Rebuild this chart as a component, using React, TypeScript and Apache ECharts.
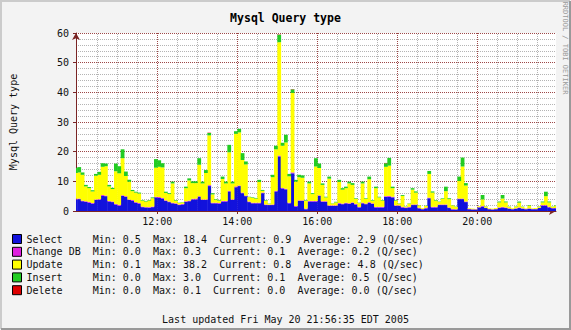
import React, { useEffect, useRef } from "react";
import * as echarts from "echarts";

// ---- data (5 minute samples, first sample interval starts 09:55) ----
const seriesNames = ["Select", "Change DB", "Update", "Insert", "Delete"];
const seriesColors = ["#1212dc", "#e020e0", "#ffff00", "#22cc22", "#dd0000"];
const startMinute = 595;
const stepMinutes = 5;
const axisMinMinute = 598;
const axisMaxMinute = 1318;
const majorTimeTicks = [720, 840, 960, 1080, 1200];
const minorTimeTicks = [630, 660, 690, 750, 780, 810, 870, 900, 930, 990, 1020, 1050, 1110, 1140, 1170, 1230, 1260, 1290];

const selectVals = [
  3.9, 4.0, 3.3, 3.1, 2.8, 2.5, 3.7, 3.8, 5.1, 5.0,
  3.2, 3.0, 2.2, 1.8, 5.1, 4.8, 3.7, 3.5, 2.8, 2.5,
  1.3, 1.2, 1.1, 1.3, 4.6, 4.4, 4.2, 3.4, 3.0, 2.6,
  2.4, 2.0, 2.2, 3.1, 3.3, 3.9, 3.9, 4.8, 3.7, 3.7,
  8.4, 2.6, 2.6, 2.5, 3.2, 3.2, 6.6, 3.7, 8.0, 8.4,
  6.0, 5.0, 3.0, 2.6, 2.6, 2.6, 6.0, 2.0, 2.0, 2.0,
  6.6, 18.4, 7.6, 7.3, 2.6, 12.7, 1.5, 3.4, 3.4, 0.6,
  3.2, 3.2, 3.2, 5.1, 3.1, 3.1, 1.7, 1.7, 1.7, 2.5,
  2.3, 2.6, 2.4, 2.7, 2.2, 1.2, 2.6, 2.3, 2.8, 2.4,
  1.2, 1.2, 1.2, 4.8, 4.8, 4.6, 1.7, 1.7, 1.2, 1.0,
  1.2, 2.0, 2.0, 0.9, 0.6, 0.9, 4.3, 1.2, 1.2, 2.0,
  2.0, 2.0, 1.0, 0.5, 0.5, 4.0, 4.0, 3.0, 0.6, 0.5,
  0.5, 1.2, 1.5, 1.0, 0.6, 0.5, 0.6, 1.0, 1.2, 1.0,
  0.8, 0.6, 0.8, 1.0, 0.8, 0.6, 0.8, 0.6, 0.6, 1.0,
  1.8, 1.8, 1.2, 0.9, 0.9,
];
const changeDbVals = [
  0.2, 0.2, 0.2, 0.2, 0.3, 0.2, 0.2, 0.2, 0.3, 0.2,
  0.2, 0.2, 0.2, 0.3, 0.2, 0.2, 0.2, 0.2, 0.2, 0.2,
  0.2, 0.1, 0.2, 0.2, 0.2, 0.3, 0.2, 0.2, 0.2, 0.2,
  0.2, 0.2, 0.2, 0.2, 0.2, 0.2, 0.3, 0.2, 0.2, 0.2,
  0.3, 0.2, 0.2, 0.2, 0.2, 0.2, 0.2, 0.2, 0.3, 0.2,
  0.2, 0.2, 0.2, 0.2, 0.2, 0.2, 0.2, 0.2, 0.1, 0.2,
  0.2, 0.3, 0.2, 0.2, 0.2, 0.3, 0.2, 0.2, 0.2, 0.2,
  0.2, 0.2, 0.2, 0.2, 0.2, 0.2, 0.2, 0.2, 0.2, 0.2,
  0.2, 0.2, 0.2, 0.2, 0.2, 0.2, 0.2, 0.2, 0.2, 0.2,
  0.2, 0.2, 0.2, 0.2, 0.3, 0.2, 0.2, 0.2, 0.2, 0.2,
  0.2, 0.2, 0.2, 0.2, 0.1, 0.2, 0.2, 0.2, 0.2, 0.2,
  0.2, 0.2, 0.2, 0.2, 0.1, 0.2, 0.2, 0.2, 0.1, 0.1,
  0.1, 0.1, 0.2, 0.1, 0.1, 0.1, 0.1, 0.2, 0.2, 0.2,
  0.1, 0.1, 0.1, 0.2, 0.1, 0.1, 0.1, 0.1, 0.1, 0.1,
  0.2, 0.2, 0.2, 0.1, 0.1,
];
const updateVals = [
  8.7, 8.8, 8.7, 5.0, 4.6, 3.9, 8.0, 8.2, 9.5, 9.9,
  4.9, 4.2, 11.0, 10.6, 12.5, 6.8, 6.0, 3.0, 3.2, 3.2,
  2.0, 1.9, 2.2, 2.8, 9.8, 10.2, 10.3, 2.5, 2.5, 6.5,
  0.9, 0.5, 0.5, 4.4, 6.8, 5.3, 5.2, 10.6, 5.4, 8.9,
  16.8, 2.8, 1.0, 0.8, 7.4, 5.9, 13.0, 5.4, 17.7, 17.9,
  11.0, 10.5, 1.5, 1.6, 1.4, 7.0, 0.6, 1.3, 0.3, 9.2,
  14.0, 38.2, 14.2, 15.6, 8.9, 26.8, 8.2, 7.8, 7.6, 2.7,
  5.9, 2.3, 11.6, 9.2, 5.5, 1.3, 9.0, 0.6, 1.0, 7.1,
  4.7, 4.9, 6.7, 5.9, 1.7, 1.3, 6.5, 1.6, 7.7, 0.9,
  6.3, 3.2, 2.1, 9.9, 10.2, 2.9, 1.6, 0.6, 3.7, 0.2,
  1.1, 5.0, 4.0, 0.8, 0.3, 0.6, 8.0, 4.8, 2.1, 0.9,
  1.9, 4.5, 2.8, 1.2, 0.8, 5.9, 10.8, 5.4, 0.2, 0.2,
  0.1, 0.3, 2.2, 0.4, 0.2, 0.2, 0.3, 1.7, 2.8, 1.7,
  0.5, 0.2, 0.6, 1.6, 0.5, 0.2, 0.9, 0.2, 0.3, 0.4,
  0.9, 3.0, 1.5, 0.4, 0.8,
];
const insertVals = [
  1.7, 1.8, 0.8, 0.5, 0.4, 0.4, 0.6, 1.0, 1.2, 0.9,
  0.5, 0.4, 2.6, 2.4, 3.0, 1.5, 0.6, 0.4, 0.3, 0.3,
  0.2, 0.2, 0.2, 0.3, 2.9, 2.2, 1.4, 0.4, 0.3, 0.6,
  0.2, 0.1, 0.1, 0.5, 0.7, 0.6, 0.6, 2.2, 0.6, 1.0,
  0.8, 0.4, 0.2, 0.2, 0.8, 0.6, 2.5, 0.6, 0.9, 1.2,
  2.3, 1.0, 0.1, 0.2, 0.2, 0.7, 0.3, 0.2, 0.1, 0.8,
  1.2, 2.5, 1.0, 2.6, 0.8, 1.2, 0.6, 0.8, 0.8, 0.2,
  0.6, 0.3, 2.8, 1.5, 0.5, 0.2, 0.7, 0.1, 0.2, 0.7,
  0.5, 0.5, 0.6, 0.6, 0.2, 0.1, 0.6, 0.2, 0.9, 0.2,
  0.5, 0.2, 0.2, 1.2, 2.6, 0.5, 0.2, 0.1, 0.3, 0.1,
  0.1, 0.5, 0.4, 0.1, 0.0, 0.1, 1.0, 0.4, 0.2, 0.1,
  0.2, 1.5, 0.3, 0.1, 0.1, 1.5, 3.0, 0.8, 0.0, 0.0,
  0.0, 0.0, 1.5, 0.1, 0.0, 0.0, 0.0, 0.3, 1.2, 0.3,
  0.1, 0.0, 0.1, 0.4, 0.1, 0.0, 0.2, 0.0, 0.0, 0.1,
  0.3, 1.5, 0.3, 0.1, 0.1,
];
const deleteVals = [
  0, 0, 0, 0, 0, 0, 0, 0, 0, 0,
  0, 0, 0, 0, 0, 0, 0, 0, 0, 0,
  0, 0, 0, 0, 0, 0, 0, 0, 0, 0,
  0, 0, 0, 0, 0, 0, 0, 0, 0, 0,
  0.1, 0, 0, 0, 0, 0, 0, 0, 0, 0,
  0, 0, 0, 0, 0, 0, 0, 0, 0, 0,
  0, 0.1, 0, 0, 0, 0.1, 0, 0, 0, 0,
  0, 0, 0, 0, 0, 0, 0, 0, 0, 0,
  0, 0, 0, 0, 0, 0, 0, 0, 0, 0,
  0, 0, 0, 0.1, 0, 0, 0, 0, 0, 0,
  0, 0, 0, 0, 0, 0, 0, 0, 0, 0,
  0, 0, 0, 0, 0, 0, 0, 0, 0, 0,
  0, 0, 0, 0, 0, 0, 0, 0, 0, 0,
  0, 0, 0, 0, 0, 0, 0, 0, 0, 0,
  0, 0, 0, 0, 0,
];

const legendMin = ["0.5", "0.0", "0.1", "0.0", "0.0"];
const legendMax = ["18.4", "0.3", "38.2", "3.0", "0.1"];
const legendCurrent = ["0.9", "0.1", "0.8", "0.1", "0.0"];
const legendAverage = ["2.9", "0.2", "4.8", "0.5", "0.0"];
const legendUnit = "(Q/sec)";

const titleText = "Mysql Query type";
const yAxisTitle = "Mysql Query type";
const footerText = "Last updated Fri May 20 21:56:35 EDT 2005";
const sideText = "RRDTOOL / TOBI OETIKER";

const allValues = [selectVals, changeDbVals, updateVals, insertVals, deleteVals];

const MONO = "'DejaVu Sans Mono', 'Liberation Mono', monospace";
const CHAR_W = 6.02;
const MAJOR_GRID = "rgba(140,40,40,0.85)";
const MINOR_GRID = "#b4b4b4";
const AXIS_COLOR = "#7a2424";

function fmtTime(v: number) {
  const h = Math.floor(v / 60);
  const m = Math.round(v % 60);
  return `${h}:${String(m).padStart(2, "0")}`;
}

export default function App() {
  const ref = useRef<HTMLDivElement>(null);

  useEffect(() => {
    document.body.style.margin = "0";
    if (!ref.current) return;
    const chart = echarts.init(ref.current, null, { renderer: "svg" });

    const rich: Record<string, any> = {};
    for (let n = 1; n <= 30; n++) {
      rich[`w${n}`] = { width: n * CHAR_W, fontFamily: MONO, fontSize: 10, color: "#111", lineHeight: 12.8 };
    }
    rich.t = { fontFamily: MONO, fontSize: 10, color: "#111", lineHeight: 12.8 };
    const seg = (s: string, pad: number) => `{w${s.length + pad}|${s}}`;

    // stacked layers: each row = [sampleStart, stackBase, value]
    const base = selectVals.map(() => 0);
    const series: any[] = seriesNames.map((name, k) => {
      const vals = allValues[k];
      const data = vals.map((v, i) => {
        const row = [startMinute + i * stepMinutes, base[i], v];
        base[i] += v;
        return row;
      });
      const color = seriesColors[k];
      return {
        type: "custom",
        name,
        xAxisIndex: 0,
        yAxisIndex: 0,
        itemStyle: { color },
        encode: { x: 0, y: [1, 2] },
        silent: true,
        z: 3,
        renderItem: (params: any, api: any) => {
          const t = api.value(0);
          const b = api.value(1);
          const v = api.value(2);
          if (!(v > 0)) return null;
          const p0 = api.coord([t, b]);
          const p1 = api.coord([t + stepMinutes, b + v]);
          const cs = params.coordSys;
          const shape = echarts.graphic.clipRectByRect(
            { x: p0[0], y: p1[1], width: p1[0] - p0[0] + 0.45, height: p0[1] - p1[1] },
            { x: cs.x, y: cs.y, width: cs.width, height: cs.height }
          );
          if (!shape) return null;
          return { type: "rect", shape, style: { fill: color, stroke: null } };
        },
        data,
      };
    });

    // minor vertical grid lines, drawn under the data through the x axis scale
    series.push({
      type: "line",
      name: "__grid",
      xAxisIndex: 0,
      yAxisIndex: 0,
      data: [],
      silent: true,
      z: 1,
      markLine: {
        silent: true,
        symbol: ["none", "none"],
        z: 1,
        label: { show: false },
        lineStyle: { color: MINOR_GRID, type: [1, 1], width: 1 },
        data: minorTimeTicks.map((t) => ({ xAxis: t })),
      },
    });

    const option: any = {
      animation: false,
      backgroundColor: "#f3f3f3",
      title: [
        {
          text: titleText,
          left: "center",
          top: 7,
          textStyle: { fontFamily: MONO, fontSize: 11.5, fontWeight: "bold", color: "#000" },
        },
        {
          text: footerText,
          left: "center",
          top: 309,
          textStyle: { fontFamily: MONO, fontSize: 10, fontWeight: "normal", color: "#111" },
        },
      ],
      grid: {
        left: 76,
        top: 33,
        width: 480,
        height: 178,
        show: true,
        backgroundColor: "#ffffff",
        borderWidth: 0,
        containLabel: false,
        outerBoundsMode: "none",
      },
      legend: {
        orient: "vertical",
        left: 12,
        top: 232.6,
        padding: 0,
        itemGap: 0,
        itemWidth: 9,
        itemHeight: 9,
        selectedMode: false,
        data: seriesNames.map((name, k) => ({
          name,
          icon: "rect",
          itemStyle: { color: seriesColors[k], borderColor: "#000", borderWidth: 1 },
        })),
        textStyle: { fontFamily: MONO, fontSize: 10, color: "#111", lineHeight: 12.8, rich },
        formatter: (name: string) => {
          const k = seriesNames.indexOf(name);
          return (
            `{w11|${name}}` +
            seg(`Min: ${legendMin[k]}`, 2) +
            seg(`Max: ${legendMax[k]}`, 2) +
            seg(`Current: ${legendCurrent[k]}`, 2) +
            `{t|Average: ${legendAverage[k]} ${legendUnit}}`
          );
        },
      },
      xAxis: {
        type: "value",
        min: axisMinMinute,
        max: axisMaxMinute,
        position: "bottom",
        axisLine: {
          show: true,
          onZero: false,
          lineStyle: { color: AXIS_COLOR, width: 1 },
          symbol: ["none", "arrow"],
          symbolSize: [6, 7],
        },
        axisTick: { show: true, length: 3, customValues: majorTimeTicks, lineStyle: { color: AXIS_COLOR } },
        axisLabel: {
          customValues: majorTimeTicks,
          formatter: (v: number) => fmtTime(v),
          fontFamily: MONO,
          fontSize: 10,
          color: "#111",
          margin: 5,
        },
        splitLine: { show: true, lineStyle: { color: MAJOR_GRID, type: [1, 1], width: 1 } },
      },
      yAxis: {
        type: "value",
        min: 0,
        max: 60,
        interval: 10,
        name: yAxisTitle,
        nameLocation: "middle",
        nameRotate: 90,
        nameGap: 58,
        nameTextStyle: { fontFamily: MONO, fontSize: 10, color: "#111" },
        axisLine: {
          show: true,
          lineStyle: { color: AXIS_COLOR, width: 1 },
          symbol: ["none", "arrow"],
          symbolSize: [6, 7],
        },
        axisTick: { show: true, length: 3, lineStyle: { color: AXIS_COLOR } },
        axisLabel: { fontFamily: MONO, fontSize: 10, color: "#111", margin: 7 },
        splitLine: { show: true, lineStyle: { color: MAJOR_GRID, type: [1, 1], width: 1 } },
        minorTick: { show: false, splitNumber: 5 },
        minorSplitLine: { show: true, lineStyle: { color: MINOR_GRID, type: [1, 1], width: 1 } },
      },
      series,
      graphic: [
        {
          type: "text",
          x: 565,
          y: 48,
          rotation: -Math.PI / 2,
          style: {
            text: sideText,
            fontFamily: MONO,
            fontSize: 7,
            fill: "#9a9a9a",
            align: "center",
            verticalAlign: "middle",
          },
        },
        {
          type: "polyline",
          shape: { points: [[1, 329], [1, 1], [570, 1]] },
          style: { stroke: "#cbcbcb", lineWidth: 2, fill: null },
        },
        {
          type: "polyline",
          shape: { points: [[1, 329], [570, 329], [570, 1]] },
          style: { stroke: "#999999", lineWidth: 2, fill: null },
        },
      ],
    };

    chart.setOption(option);
    return () => chart.dispose();
  }, []);

  return <div ref={ref} style={{ width: 571, height: 330 }} />;
}
